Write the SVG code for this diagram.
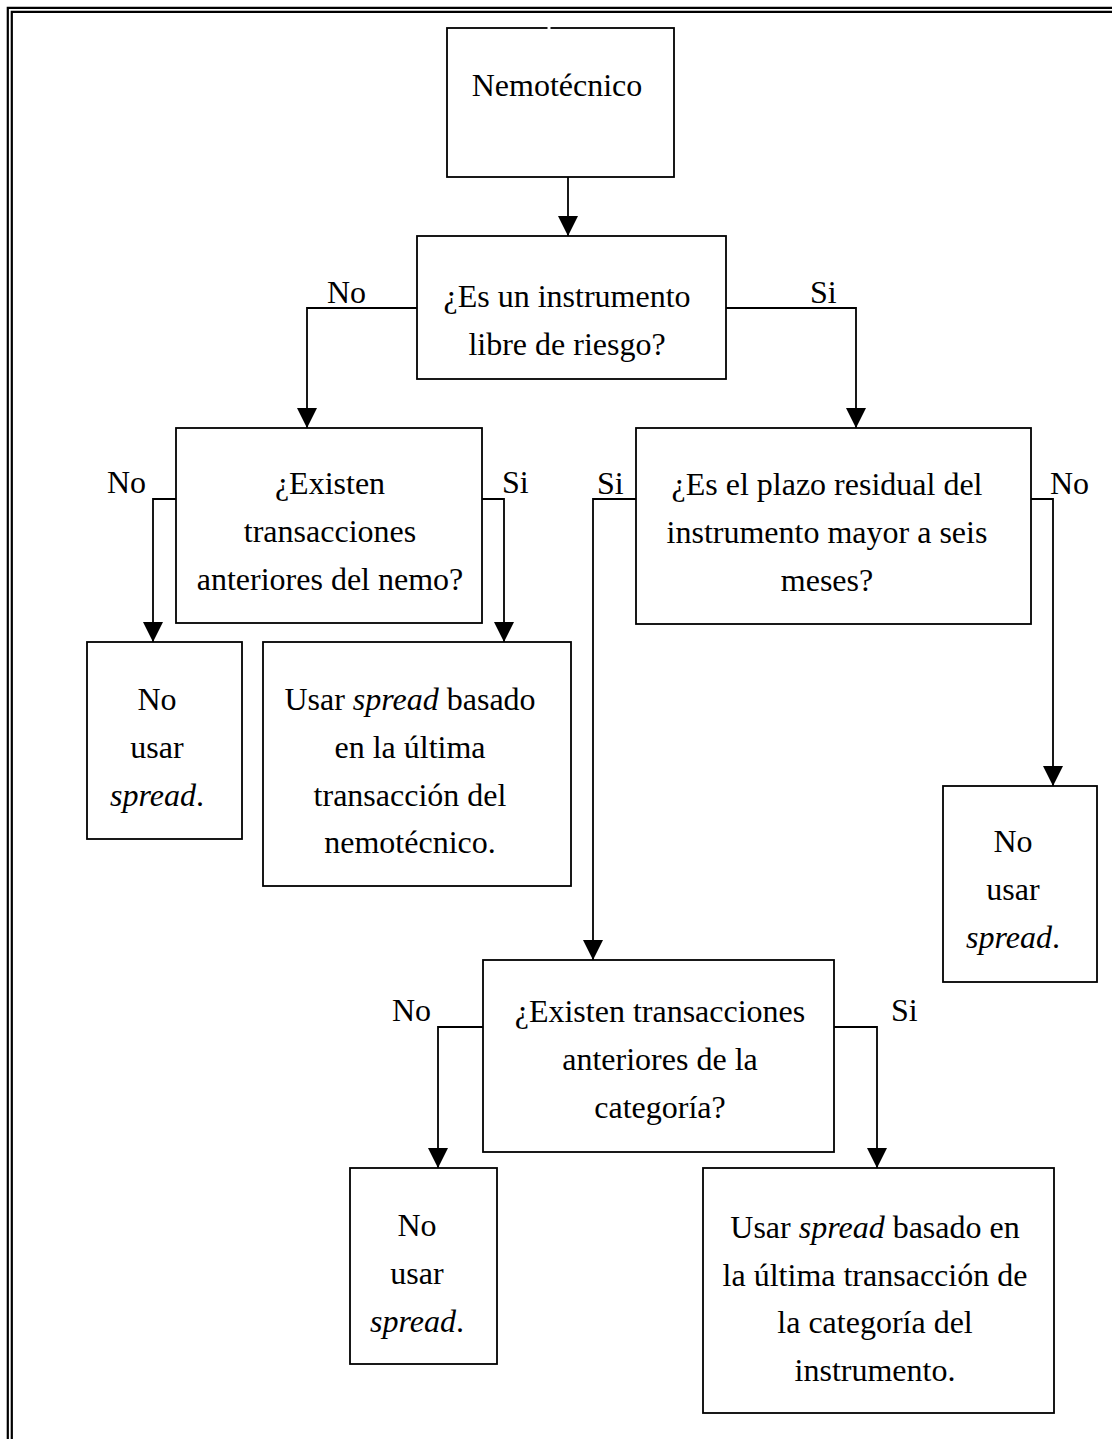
<svg xmlns="http://www.w3.org/2000/svg" width="1112" height="1439" viewBox="0 0 1112 1439">
<style>
.box{fill:#fff;stroke:#000;stroke-width:1.8}
.ln{fill:none;stroke:#000;stroke-width:1.8}
.bd{fill:none;stroke:#000;stroke-width:2.2}
text{font-family:"Liberation Serif","Times New Roman",serif;font-size:32px;fill:#000}
.c{text-anchor:middle}
.i{font-style:italic}
</style>
<defs>
<marker id="ah" markerWidth="20" markerHeight="20" viewBox="0 0 20 20" refX="20" refY="10" orient="auto" markerUnits="userSpaceOnUse">
<path d="M0,0 L20,10 L0,20 Z" fill="#000"/>
</marker>
</defs>
<rect width="1112" height="1439" fill="#fff"/>
<g id="border">
<path class="bd" d="M7.8,1439 V7.8 H1112"/>
<path class="bd" d="M11.8,1439 V11.8 H1112"/>
</g>
<g id="connectors">
<path class="ln" d="M568,177 V236" marker-end="url(#ah)"/>
<path class="ln" d="M417,308 H307 V428" marker-end="url(#ah)"/>
<path class="ln" d="M726,308 H856 V428" marker-end="url(#ah)"/>
<path class="ln" d="M176,499 H153 V642" marker-end="url(#ah)"/>
<path class="ln" d="M482,499 H504 V642" marker-end="url(#ah)"/>
<path class="ln" d="M636,499 H593 V960" marker-end="url(#ah)"/>
<path class="ln" d="M1031,499 H1053 V786" marker-end="url(#ah)"/>
<path class="ln" d="M483,1027 H438 V1168" marker-end="url(#ah)"/>
<path class="ln" d="M834,1027 H877 V1168" marker-end="url(#ah)"/>
<text x="327" y="303">No</text>
<text x="810" y="303">Si</text>
<text x="107" y="493">No</text>
<text x="502" y="493">Si</text>
<text x="597" y="494">Si</text>
<text x="1050" y="494">No</text>
<text x="392" y="1021">No</text>
<text x="891" y="1021">Si</text>
</g>
<g id="n-nemotecnico">
<rect class="box" x="447" y="28" width="227" height="149"/>
<line x1="547.5" y1="28" x2="550.5" y2="28" stroke="#fff" stroke-width="3"/>
<text class="c" x="557" y="96">Nemotécnico</text>
</g>
<g id="n-libre-riesgo">
<rect class="box" x="417" y="236" width="309" height="143"/>
<text class="c" x="567" y="307">¿Es un instrumento</text>
<text class="c" x="567" y="355">libre de riesgo?</text>
</g>
<g id="n-trans-nemo">
<rect class="box" x="176" y="428" width="306" height="195"/>
<text class="c" x="330" y="494">¿Existen</text>
<text class="c" x="330" y="542">transacciones</text>
<text class="c" x="330" y="590">anteriores del nemo?</text>
</g>
<g id="n-plazo">
<rect class="box" x="636" y="428" width="395" height="196"/>
<text class="c" x="827" y="495">¿Es el plazo residual del</text>
<text class="c" x="827" y="543">instrumento mayor a seis</text>
<text class="c" x="827" y="591">meses?</text>
</g>
<g id="n-no-spread-1">
<rect class="box" x="87" y="642" width="155" height="197"/>
<text class="c" x="157" y="710">No</text>
<text class="c" x="157" y="758">usar</text>
<text class="c" x="157" y="806"><tspan class="i">spread</tspan>.</text>
</g>
<g id="n-spread-nemo">
<rect class="box" x="263" y="642" width="308" height="244"/>
<text class="c" x="410" y="710">Usar <tspan class="i">spread</tspan> basado</text>
<text class="c" x="410" y="758">en la última</text>
<text class="c" x="410" y="806">transacción del</text>
<text class="c" x="410" y="853">nemotécnico.</text>
</g>
<g id="n-no-spread-2">
<rect class="box" x="943" y="786" width="154" height="196"/>
<text class="c" x="1013" y="852">No</text>
<text class="c" x="1013" y="900">usar</text>
<text class="c" x="1013" y="948"><tspan class="i">spread</tspan>.</text>
</g>
<g id="n-trans-categoria">
<rect class="box" x="483" y="960" width="351" height="192"/>
<text class="c" x="660" y="1022">¿Existen transacciones</text>
<text class="c" x="660" y="1070">anteriores de la</text>
<text class="c" x="660" y="1118">categoría?</text>
</g>
<g id="n-no-spread-3">
<rect class="box" x="350" y="1168" width="147" height="196"/>
<text class="c" x="417" y="1236">No</text>
<text class="c" x="417" y="1284">usar</text>
<text class="c" x="417" y="1332"><tspan class="i">spread</tspan>.</text>
</g>
<g id="n-spread-categoria">
<rect class="box" x="703" y="1168" width="351" height="245"/>
<text class="c" x="875" y="1238">Usar <tspan class="i">spread</tspan> basado en</text>
<text class="c" x="875" y="1286">la última transacción de</text>
<text class="c" x="875" y="1333">la categoría del</text>
<text class="c" x="875" y="1381">instrumento.</text>
</g>
</svg>
